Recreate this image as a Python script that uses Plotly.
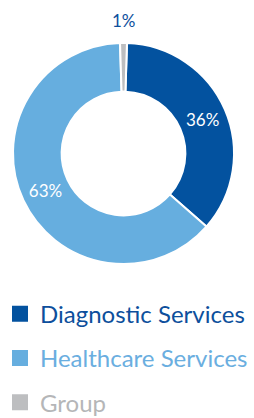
import plotly.graph_objects as go

categories = ["Diagnostic Services", "Healthcare Services", "Group"]
shares = [36, 63, 1]
slice_colors = ["#03529F", "#66AEDF", "#BDBEC0"]
legend_text_colors = ["#0D4F9C", "#6AAEE0", "#B5B6B8"]

FONT = "Lato"
W, H = 254, 418

fig = go.Figure()

fig.add_trace(go.Pie(
    labels=categories,
    values=shares,
    sort=False,
    direction="clockwise",
    rotation=1.8,
    hole=0.56,
    marker=dict(colors=slice_colors, line=dict(color="white", width=2)),
    texttemplate=["%{value}%", "%{value}%", ""],
    textposition="inside",
    insidetextorientation="horizontal",
    insidetextfont=dict(family=FONT, size=17, color="white"),
    showlegend=False,
    domain=dict(x=[13 / W, 234 / W], y=[(H - 264) / H, (H - 43) / H]),
))

for i, (name, col, tcol) in enumerate(zip(categories, slice_colors, legend_text_colors)):
    fig.add_trace(go.Scatter(
        x=[None], y=[None], mode="markers",
        marker=dict(symbol="square", size=16, color=col),
        name=f"<span style='color:{tcol}'>{name}</span>",
        legendgroup=f"g{i}",
        showlegend=True,
        hoverinfo="skip",
    ))

fig.add_annotation(
    text=f"{shares[2]}%", x=123.5 / W, y=(H - 21) / H, xref="paper", yref="paper",
    showarrow=False, xanchor="center", yanchor="middle",
    font=dict(family=FONT, size=17, color="#0D4F9C"),
)

fig.update_layout(
    width=W, height=H,
    margin=dict(l=0, r=0, t=0, b=0, autoexpand=False),
    paper_bgcolor="white", plot_bgcolor="white",
    font=dict(family=FONT),
    xaxis=dict(visible=False), yaxis=dict(visible=False),
    legend=dict(
        x=0, y=0.302, xanchor="left", yanchor="top",
        font=dict(family=FONT, size=24),
        tracegroupgap=10,
        bgcolor="rgba(0,0,0,0)",
    ),
)

fig.write_html("out.html", config={"displayModeBar": False},
               post_script="document.body.style.margin='0';")
